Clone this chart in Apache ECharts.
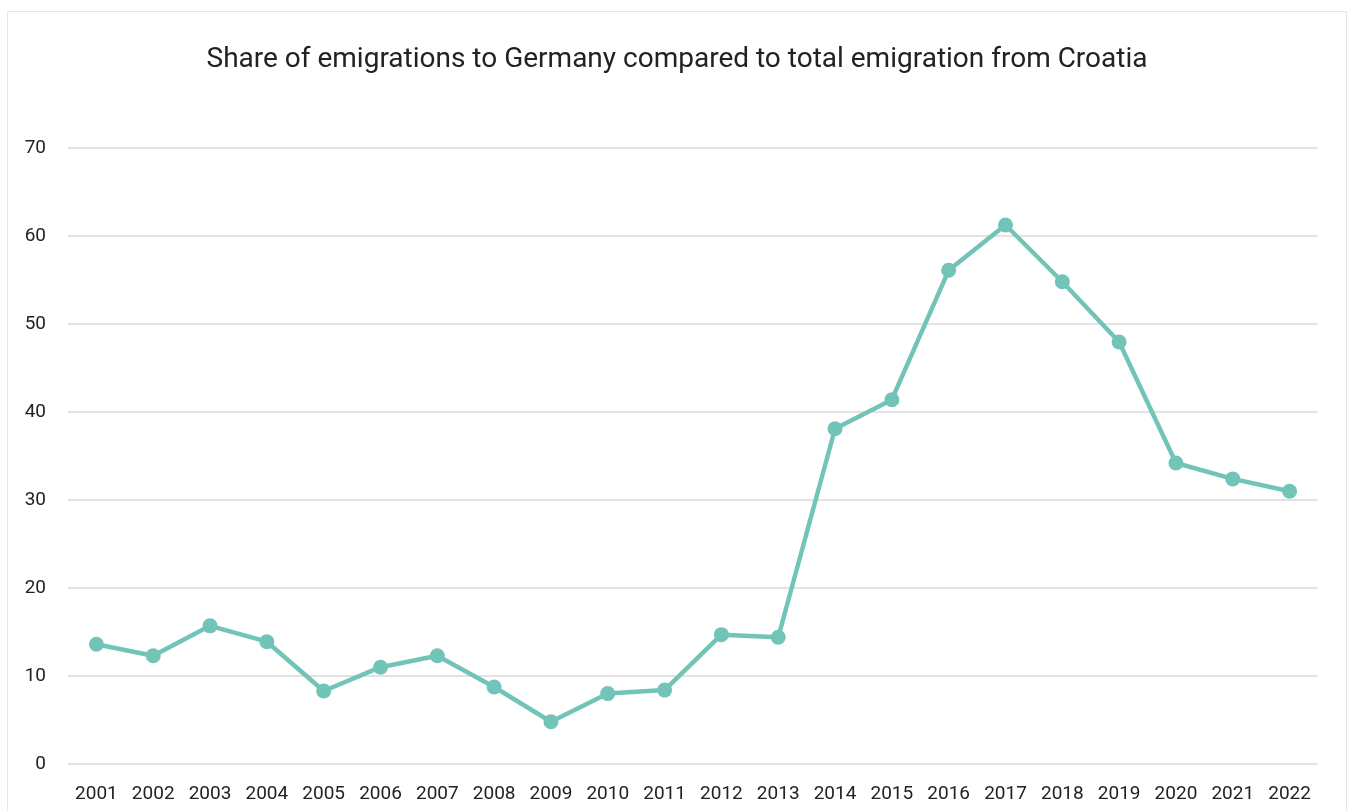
<!DOCTYPE html>
<html>
<head>
<meta charset="utf-8">
<script src="https://cdn.jsdelivr.net/npm/echarts@6/dist/echarts.min.js"></script>
<style>
  html, body { margin: 0; padding: 0; background: #fff; overflow: hidden; }
  #chart {
    position: absolute;
    left: 7px;
    top: 11px;
    width: 1338px;
    height: 820px;
    border: 1px solid #e6e6e6;
  }
</style>
</head>
<body>
<div id="chart"></div>
<script>
// years on the x axis
const years = ["2001", "2002", "2003", "2004", "2005", "2006", "2007", "2008", "2009", "2010", "2011",
  "2012", "2013", "2014", "2015", "2016", "2017", "2018", "2019", "2020", "2021", "2022"];

// share of emigrations to Germany (%)
const shareGermany = [13.6, 12.3, 15.7, 13.9, 8.3, 11.0, 12.3, 8.75, 4.8, 8.0, 8.4,
  14.7, 14.4, 38.1, 41.4, 56.1, 61.25, 54.8, 47.95, 34.2, 32.4, 31.0];

const yTicks = [0, 10, 20, 30, 40, 50, 60, 70];

const chart = echarts.init(document.getElementById('chart'), null, { renderer: 'canvas' });

const option = {
  backgroundColor: '#fff',
  textStyle: { fontFamily: 'Roboto' },
  title: {
    text: 'Share of emigrations to Germany compared to total emigration from Croatia',
    left: 'center',
    top: 29,
    textStyle: { fontFamily: 'Roboto', fontSize: 28, fontWeight: 'normal', color: '#222' }
  },
  grid: { left: 60, right: 28, top: 136, bottom: 68 },
  xAxis: {
    type: 'category',
    data: years,
    boundaryGap: true,
    axisLine: { show: false },
    axisTick: { show: false },
    axisLabel: { color: '#222', fontSize: 19, margin: 21 }
  },
  yAxis: {
    type: 'value',
    min: yTicks[0],
    max: yTicks[yTicks.length - 1],
    interval: 10,
    axisLine: { show: false },
    axisTick: { show: false },
    axisLabel: { color: '#222', fontSize: 19, margin: 22 },
    splitLine: { lineStyle: { color: '#e3e3e3', width: 2 } }
  },
  series: [{
    type: 'line',
    data: shareGermany,
    symbol: 'circle',
    symbolSize: 15,
    lineStyle: { color: '#73c4b8', width: 4.5 },
    itemStyle: { color: '#73c4b8' }
  }]
};

chart.setOption(option);
</script>
</body>
</html>
